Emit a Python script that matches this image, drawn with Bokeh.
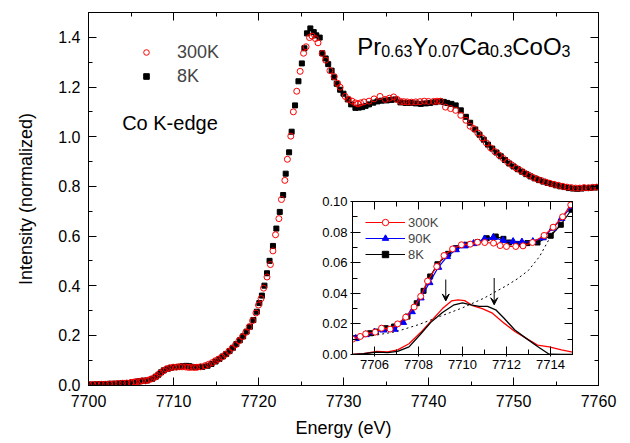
from bokeh.plotting import figure
from bokeh.models import (Range1d, LinearAxis, SingleIntervalTicker, PrintfTickFormatter,
                          Legend, LegendItem, Label, Arrow, VeeHead, CustomLabelingPolicy)
from bokeh.embed import file_html
from bokeh.resources import INLINE

FONT = "Liberation Sans"

# ---------------- data ----------------
E300 = [7700.0, 7700.5, 7701.0, 7701.5, 7702.0, 7702.5, 7703.0, 7703.5, 7704.0, 7704.5,
        7705.0, 7705.35, 7705.60, 7706.03, 7706.32, 7706.71, 7707.05, 7707.42, 7707.80, 7708.10,
        7708.41, 7708.83, 7709.16, 7709.55, 7709.95, 7710.35, 7710.68, 7711.01, 7711.41, 7711.71,
        7712.00, 7712.42, 7712.75, 7713.18, 7713.71, 7714.12, 7714.55, 7714.92, 7715.3, 7715.7,
        7716.1, 7716.5, 7716.9, 7717.3, 7717.7, 7718.1, 7718.5, 7718.9, 7719.3, 7719.7,
        7720.0, 7720.3, 7720.6, 7721.0, 7721.4, 7721.7, 7722.0, 7722.4, 7722.7, 7723.1,
        7723.4, 7723.8, 7724.1, 7724.5, 7724.9, 7725.3, 7725.6, 7726.0, 7726.3, 7726.7,
        7727.0, 7727.5, 7727.9, 7728.4, 7728.9, 7729.3, 7729.6, 7730.2, 7730.6, 7731.0,
        7731.4, 7731.7, 7732.0, 7732.4, 7733.0, 7733.6, 7734.3, 7734.9, 7735.4, 7735.9,
        7736.3, 7736.7, 7737.1, 7737.5, 7738.0, 7738.5, 7739.0, 7739.5, 7740.0, 7740.6,
        7741.0, 7741.4, 7742.0, 7742.6, 7743.2, 7743.8, 7744.4, 7744.9, 7745.3, 7745.8,
        7746.3, 7746.8, 7747.3, 7747.8, 7748.3, 7748.8, 7749.3, 7749.8, 7750.3, 7750.8,
        7751.3, 7751.8, 7752.3, 7752.8, 7753.3, 7753.8, 7754.3, 7754.8, 7755.3, 7755.8,
        7756.3, 7756.8, 7757.3, 7757.8, 7758.3, 7758.8, 7759.3, 7759.8]
I300 = [0.002, 0.002, 0.002, 0.003, 0.003, 0.004, 0.005, 0.006, 0.007, 0.008,
        0.010, 0.0118, 0.0135, 0.0146, 0.0172, 0.0166, 0.020, 0.0244, 0.031, 0.038,
        0.048, 0.0575, 0.0647, 0.069, 0.0717, 0.0721, 0.0734, 0.0732, 0.0728, 0.0712,
        0.0706, 0.0706, 0.0710, 0.0732, 0.0778, 0.0832, 0.0900, 0.0978, 0.104, 0.113,
        0.123, 0.135, 0.148, 0.162, 0.178, 0.194, 0.212, 0.234, 0.259, 0.290,
        0.322, 0.348, 0.390, 0.435, 0.485, 0.540, 0.605, 0.670, 0.747, 0.824,
        0.909, 1.002, 1.100, 1.183, 1.263, 1.336, 1.362, 1.399, 1.405, 1.395,
        1.378, 1.335, 1.308, 1.266, 1.242, 1.215, 1.199, 1.162, 1.150, 1.143,
        1.136, 1.132, 1.136, 1.140, 1.143, 1.152, 1.162, 1.150, 1.155, 1.160,
        1.150, 1.142, 1.141, 1.140, 1.139, 1.140, 1.141, 1.143, 1.142, 1.142,
        1.143, 1.143, 1.119, 1.113, 1.106, 1.086, 1.066, 1.042, 1.033, 1.015,
        0.995, 0.975, 0.955, 0.940, 0.926, 0.912, 0.898, 0.886, 0.874, 0.864,
        0.854, 0.845, 0.836, 0.829, 0.823, 0.817, 0.812, 0.808, 0.804, 0.800,
        0.797, 0.795, 0.793, 0.793, 0.795, 0.794, 0.796, 0.797]

E8 = [7700.0, 7700.5, 7701.0, 7701.5, 7702.0, 7702.5, 7703.0, 7703.5, 7704.0, 7704.5,
      7705.15, 7705.80, 7706.06, 7706.51, 7706.89, 7707.50, 7707.92, 7708.23, 7708.53, 7708.86,
      7709.35, 7709.70, 7710.15, 7710.68, 7711.10, 7711.51, 7711.86, 7712.12, 7712.50, 7712.95,
      7713.41, 7714.01, 7714.47, 7714.95, 7715.4, 7715.8, 7716.2, 7716.6, 7717.0, 7717.4,
      7717.8, 7718.2, 7718.6, 7719.0, 7719.4, 7719.8, 7720.1, 7720.4, 7720.7, 7721.0,
      7721.3, 7721.7, 7722.1, 7722.5, 7722.9, 7723.2, 7723.6, 7723.9, 7724.3, 7724.7,
      7725.1, 7725.4, 7725.7, 7726.1, 7726.5, 7726.8, 7727.2, 7727.5, 7727.9, 7728.2,
      7728.6, 7728.9, 7729.2, 7729.6, 7730.0, 7730.5, 7730.9, 7731.4, 7731.8, 7732.2,
      7732.6, 7733.0, 7733.5, 7734.0, 7734.5, 7735.1, 7735.6, 7736.1, 7736.7, 7737.3,
      7737.9, 7738.5, 7739.1, 7739.7, 7740.2, 7740.8, 7741.4, 7741.8, 7742.2, 7742.7,
      7743.2, 7743.8, 7744.4, 7744.9, 7745.5, 7746.0, 7746.5, 7747.0, 7747.5, 7748.0,
      7748.5, 7749.0, 7749.5, 7750.0, 7750.5, 7751.0, 7751.5, 7752.0, 7752.5, 7753.0,
      7753.5, 7754.0, 7754.5, 7755.0, 7755.5, 7756.0, 7756.5, 7757.0, 7757.5, 7758.0,
      7758.5, 7759.0, 7759.5, 7760.0]
I8 = [0.002, 0.002, 0.003, 0.003, 0.004, 0.005, 0.005, 0.006, 0.007, 0.008,
      0.0107, 0.0139, 0.015, 0.0172, 0.0183, 0.0248, 0.0335, 0.0416, 0.051, 0.059,
      0.0658, 0.0695, 0.0717, 0.0734, 0.076, 0.0771, 0.0756, 0.0732, 0.0723, 0.0728,
      0.0732, 0.0776, 0.0848, 0.0946, 0.105, 0.115, 0.125, 0.137, 0.150, 0.165,
      0.180, 0.196, 0.215, 0.235, 0.262, 0.295, 0.330, 0.360, 0.400, 0.450,
      0.500, 0.560, 0.630, 0.697, 0.765, 0.851, 0.937, 1.020, 1.126, 1.223,
      1.295, 1.356, 1.416, 1.436, 1.421, 1.408, 1.399, 1.336, 1.315, 1.292,
      1.266, 1.239, 1.213, 1.189, 1.173, 1.150, 1.130, 1.116, 1.117, 1.119,
      1.124, 1.130, 1.137, 1.142, 1.145, 1.146, 1.148, 1.150, 1.138, 1.136,
      1.136, 1.134, 1.132, 1.134, 1.136, 1.139, 1.142, 1.140, 1.136, 1.132,
      1.126, 1.106, 1.080, 1.056, 1.029, 1.008, 0.988, 0.968, 0.952, 0.936,
      0.921, 0.906, 0.892, 0.880, 0.869, 0.859, 0.849, 0.840, 0.832, 0.825,
      0.819, 0.814, 0.809, 0.804, 0.800, 0.797, 0.793, 0.791, 0.790, 0.791,
      0.793, 0.794, 0.795, 0.796]

E90 = [7705.15, 7705.6, 7706.0, 7706.4, 7706.9, 7707.3, 7707.7, 7708.1, 7708.5, 7708.9,
       7709.3, 7709.7, 7710.1, 7710.5, 7711.0, 7711.4, 7711.85, 7712.3, 7712.7, 7713.2,
       7713.65, 7714.1, 7714.5, 7714.95]
I90 = [0.0105, 0.0130, 0.0145, 0.0160, 0.0165, 0.0210, 0.0280, 0.0370, 0.0470, 0.0570,
       0.0640, 0.0685, 0.0710, 0.0725, 0.0755, 0.0765, 0.0745, 0.0738, 0.0735, 0.0738,
       0.0763, 0.0826, 0.0890, 0.0967]

# pre-edge peaks (difference curves)
D300_E = [7705.0, 7705.5, 7706.1, 7706.6, 7707.05, 7707.57, 7708.07, 7708.56, 7709.09, 7709.5,
          7709.8, 7710.1, 7710.45, 7710.9, 7711.36, 7711.89, 7712.38, 7712.88, 7713.41, 7713.94,
          7714.5, 7715.0]
D300_I = [0.0000, 0.0005, 0.0020, 0.0017, 0.0030, 0.0070, 0.0140, 0.0216, 0.0300, 0.0350,
          0.0357, 0.0352, 0.0320, 0.0300, 0.0270, 0.0205, 0.0150, 0.0107, 0.0061, 0.0050,
          0.0030, 0.0015]
D8_E = [7705.0, 7705.5, 7706.1, 7706.6, 7707.05, 7707.57, 7708.07, 7708.56, 7709.09, 7709.62,
        7710.0, 7710.38, 7710.76, 7711.14, 7711.51, 7711.89, 7712.38, 7712.88, 7713.41, 7713.94,
        7714.5, 7715.0]
D8_I = [0.0000, 0.0005, 0.0015, 0.0012, 0.0020, 0.0050, 0.0129, 0.0210, 0.0275, 0.0325,
        0.0338, 0.0325, 0.0314, 0.0314, 0.0292, 0.0237, 0.0160, 0.0107, 0.0052, 0.0002,
        0.0000, 0.0000]

# background (dotted)
BG_E = [7705.0, 7706.0, 7707.0, 7708.0, 7709.0, 7710.0, 7711.0, 7712.0, 7712.5, 7713.0,
        7713.5, 7714.0, 7714.3]
BG_I = [0.0105, 0.0125, 0.0150, 0.0195, 0.0250, 0.0305, 0.0370, 0.0450, 0.0495, 0.0550,
        0.0640, 0.0770, 0.0850]

ARROW_E = [7709.24, 7711.44]
ARROW_FROM = [0.0490, 0.0500]
ARROW_TO = [0.0350, 0.0325]

assert len(E300) == len(I300) and len(E8) == len(I8) and len(E90) == len(I90)
assert len(D300_E) == len(D300_I) and len(D8_E) == len(D8_I) and len(BG_E) == len(BG_I)

HIDE_LABELS = "for (const i of indices) indices.unset(i)"


def style_axis(ax, interval, fmt, font_size, tin, tout, min_in, standoff, labels=True):
    ax.ticker = SingleIntervalTicker(interval=interval, num_minor_ticks=2)
    ax.formatter = PrintfTickFormatter(format=fmt)
    ax.axis_line_color = "black"
    ax.major_tick_line_color = "black"
    ax.minor_tick_line_color = "black"
    ax.major_tick_in = tin
    ax.major_tick_out = tout
    ax.minor_tick_in = min_in
    ax.minor_tick_out = 0
    ax.major_label_text_font = FONT
    ax.major_label_text_color = "black"
    if labels:
        ax.major_label_text_font_size = font_size
        ax.major_label_standoff = standoff
    else:
        ax.major_label_text_font_size = "1px"
        ax.major_label_standoff = 0
        ax.major_label_policy = CustomLabelingPolicy(code=HIDE_LABELS)


# ---------------- main figure ----------------
p = figure(width=614, height=435, output_backend="svg", toolbar_location=None,
           x_range=Range1d(7700, 7760), y_range=Range1d(-0.002, 1.5),
           min_border_left=80, min_border_right=24, min_border_top=0, min_border_bottom=58,
           background_fill_color="white", border_fill_color="white",
           outline_line_color="black")
p.grid.visible = False

style_axis(p.xaxis[0], 10, "%d", "16px", 8, 0, 4, 9)
style_axis(p.yaxis[0], 0.2, "%.1f", "16px", 8, 0, 4, 8)
p.xaxis[0].axis_label = "Energy (eV)"
p.yaxis[0].axis_label = "Intensity (normalized)"
for ax in (p.xaxis[0], p.yaxis[0]):
    ax.axis_label_text_font = FONT
    ax.axis_label_text_font_size = "18px"
    ax.axis_label_text_font_style = "normal"
    ax.axis_label_text_color = "black"
p.xaxis[0].axis_label_standoff = 8
p.yaxis[0].axis_label_standoff = 19

top_ax = LinearAxis()
style_axis(top_ax, 10, "%d", "1px", 8, 0, 4, 0, labels=False)
p.add_layout(top_ax, "above")
right_ax = LinearAxis()
style_axis(right_ax, 0.2, "%.1f", "1px", 8, 0, 4, 0, labels=False)
p.add_layout(right_ax, "right")

r8 = p.scatter(E8, I8, marker="square", size=5, fill_color="black", line_color="black")
r300 = p.scatter(E300, I300, marker="circle", size=6, fill_color=None,
                 line_color="red", line_width=1)

leg = Legend(items=[LegendItem(label="300K", renderers=[r300]),
                    LegendItem(label="8K", renderers=[r8])],
             location="top_left", label_text_font=FONT, label_text_font_size="18px",
             glyph_width=60, glyph_height=14, label_height=24, spacing=0,
             margin=28, padding=0, label_standoff=1,
             border_line_color=None, background_fill_alpha=0)
p.add_layout(leg)

p.add_layout(Label(x=7703.96, y=1.054, text="Co K-edge", text_font=FONT,
                   text_font_size="20px", text_baseline="alphabetic", text_color="black"))

title_pieces = [("Pr", 0, 0, "24px"), ("0.63", 24, -4, "16px"), ("Y", 55.1, 0, "24px"),
                ("0.07", 71.1, -4, "16px"), ("Ca", 102.2, 0, "24px"), ("0.3", 132.9, -4, "16px"),
                ("CoO", 155.1, 0, "24px"), ("3", 204.4, -4, "16px")]
for txt, dx, dy, fs in title_pieces:
    p.add_layout(Label(x=7731.61, y=1.362, x_offset=dx, y_offset=dy, text=txt,
                       text_font=FONT, text_font_size=fs, text_baseline="alphabetic",
                       text_color="black"))

# ---------------- inset ----------------
ins = figure(width=265, height=187, output_backend="svg", toolbar_location=None,
             x_range=Range1d(7705, 7715), y_range=Range1d(0, 0.1),
             min_border_left=40, min_border_right=4, min_border_top=10, min_border_bottom=24,
             background_fill_color="white", border_fill_color=None,
             outline_line_color="black")
ins.grid.visible = False
style_axis(ins.xaxis[0], 2, "%d", "13px", 8, 2, 5, 3)
style_axis(ins.yaxis[0], 0.02, "%.2f", "13px", 8, 2, 5, 3)
it = LinearAxis()
style_axis(it, 2, "%d", "1px", 8, 0, 5, 0, labels=False)
ins.add_layout(it, "above")
ir = LinearAxis()
style_axis(ir, 0.02, "%.2f", "1px", 8, 0, 5, 0, labels=False)
ins.add_layout(ir, "right")

ins.line(BG_E, BG_I, line_color="black", line_dash="2 3", line_width=1)
ins.line(D300_E, D300_I, line_color="red", line_width=1.3)
ins.line(D8_E, D8_I, line_color="black", line_width=1.3)

l8 = ins.line(E8, I8, line_color="black", line_width=1.2)
m8 = ins.scatter(E8, I8, marker="square", size=5, fill_color="black", line_color="black")
l90 = ins.line(E90, I90, line_color="blue", line_width=1.2)
m90 = ins.scatter(E90, I90, marker="triangle", size=7, fill_color="blue", line_color="blue")
l300 = ins.line(E300, I300, line_color="red", line_width=1.2)
m300 = ins.scatter(E300, I300, marker="circle", size=6, fill_color="white",
                   line_color="red", line_width=1)

ileg = Legend(items=[LegendItem(label="300K", renderers=[l300, m300]),
                     LegendItem(label="90K", renderers=[l90, m90]),
                     LegendItem(label="8K", renderers=[l8, m8])],
              location="top_left", label_text_font=FONT, label_text_font_size="13px",
              glyph_width=40, glyph_height=16, label_height=16, spacing=0,
              margin=13, padding=0, label_standoff=3,
              border_line_color=None, background_fill_alpha=0)
ins.add_layout(ileg)

for xa, y0, y1 in zip(ARROW_E, ARROW_FROM, ARROW_TO):
    ins.add_layout(Arrow(end=VeeHead(size=7, fill_color="black", line_color="black"),
                         x_start=xa, y_start=y0, x_end=xa, y_end=y1,
                         line_color="black", line_width=1))

TEMPLATE = """
{% block contents %}
<div style="position: relative; margin: 8px;">
{% for doc in docs %}{% for root in doc.roots %}
{% if loop.first %}<div style="position: relative;">{% else %}<div style="position: absolute; left: INSET_LEFTpx; top: INSET_TOPpx;">{% endif %}
<div id="{{ root.elementid }}" data-root-id="{{ root.id }}" style="display: contents;"></div>
</div>
{% endfor %}{% endfor %}
</div>
{% endblock %}
""".replace("INSET_LEFT", "304").replace("INSET_TOP", "183")

open("out.html", "w").write(file_html([p, ins], INLINE, title="Co K-edge XANES",
                                      template=TEMPLATE))
